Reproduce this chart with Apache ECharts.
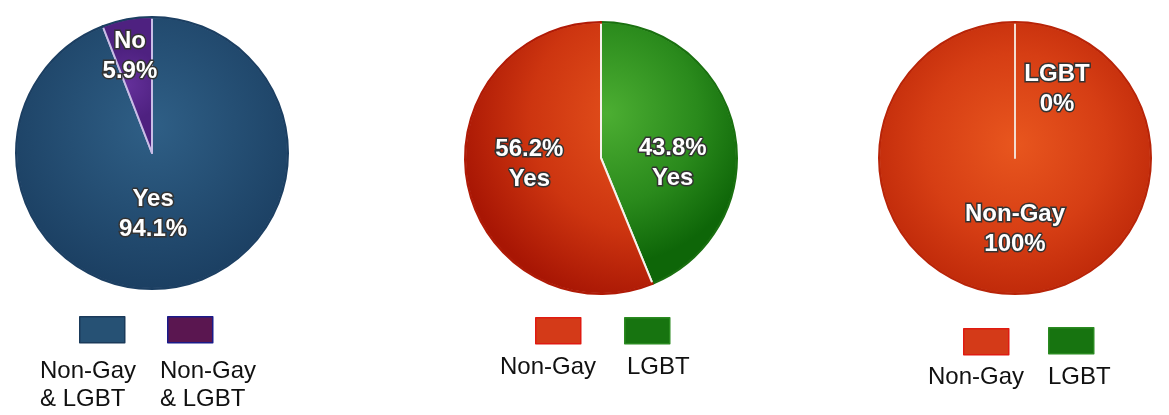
<!DOCTYPE html>
<html>
<head>
<meta charset="utf-8">
<script src="https://cdn.jsdelivr.net/npm/echarts@6/dist/echarts.min.js"></script>
<style>
html,body{margin:0;padding:0;background:#fff;}
#chart{width:1169px;height:415px;}
</style>
</head>
<body>
<div id="chart"></div>
<script>
// ---- data ----
const pie1Names = ['Yes', 'No'];
const pie1Values = [94.1, 5.9];
const pie1LegendText = ['Non-Gay\n& LGBT', 'Non-Gay\n& LGBT'];

const pie2Names = ['LGBT', 'Non-Gay'];
const pie2Values = [43.8, 56.2];
const pie2LabelWords = ['Yes', 'Yes'];

const pie3Names = ['Non-Gay', 'LGBT'];
const pie3Values = [100, 0];

const legendNames = ['Non-Gay', 'LGBT'];

// ---- layout / styles ----
const C1 = [152, 153], C2 = [601, 158], C3 = [1015, 158], R = 136;

const blueGrad = {type:'radial', x:0.5, y:0.4, r:0.6, colorStops:[{offset:0,color:'#2f5f86'},{offset:1,color:'#1b3f62'}]};
const purpleGrad = {type:'radial', x:0.5, y:0.5, r:0.7, colorStops:[{offset:0,color:'#64309a'},{offset:1,color:'#4e2180'}]};
const redGradL = {type:'radial', x:0.95, y:0.35, r:1.0, colorStops:[{offset:0,color:'#e8561e'},{offset:0.6,color:'#cd3510'},{offset:1,color:'#a81604'}]};
const greenGradR = {type:'radial', x:0.05, y:0.35, r:1.1, colorStops:[{offset:0,color:'#4cae32'},{offset:0.6,color:'#2a8a1c'},{offset:1,color:'#0e6608'}]};
const redGradFull = {type:'radial', x:0.5, y:0.45, r:0.55, colorStops:[{offset:0,color:'#e8561e'},{offset:0.6,color:'#d63e14'},{offset:1,color:'#c02a0a'}]};

function edgeBorder(c, inner, outer){
  return {type:'radial', x:c[0], y:c[1], r:R+1, global:true,
    colorStops:[{offset:0,color:inner},{offset:0.975,color:inner},{offset:0.985,color:outer},{offset:1,color:outer}]};
}

const labelBase = {
  show:true, position:'inside', color:'#fff', fontFamily:'Liberation Sans, Arial, sans-serif',
  fontWeight:'bold', fontSize:24, lineHeight:30, textBorderColor:'#333', textBorderWidth:3,
  rich:{ t:{ color:'#fff', fontFamily:'Liberation Sans, Arial, sans-serif', fontWeight:'bold', fontSize:24, lineHeight:30, textBorderColor:'#333', textBorderWidth:3 } }
};
function lbl(lines, pad){
  return Object.assign({}, labelBase, {
    formatter: () => lines.map(s => '{t|' + s + '}').join('\n'),
    padding: pad
  });
}

const pie1Colors = [blueGrad, purpleGrad];
const pie1Pads = [[0,24,16,0],[0,18,54,0]];
const pie1Data = pie1Names.map((n,i)=>({
  name:n, value:pie1Values[i],
  itemStyle:{color:pie1Colors[i]},
  label:lbl([n, pie1Values[i] + '%'], pie1Pads[i])
}));

const pie2Colors = [greenGradR, redGradL];
const pie2Edges = ['#1a7010', '#b01a06'];
const pie2Pads = [[38,0,0,4],[0,4,14,0]];
const pie2Data = pie2Names.map((n,i)=>({
  name:n, value:pie2Values[i],
  itemStyle:{color:pie2Colors[i], borderColor:edgeBorder(C2, '#f6f2ec', pie2Edges[i])},
  label:lbl([pie2Values[i] + '%', pie2LabelWords[i]], pie2Pads[i])
}));

const pie3Pads = [[0,0,0,0],[4,0,0,84]];
const pie3Data = pie3Names.map((n,i)=>({
  name:n, value:pie3Values[i],
  itemStyle:{color:redGradFull},
  label:lbl([n, pie3Values[i] + '%'], pie3Pads[i])
}));

const legendColorMap = {
  'Yes':{color:'#265174', borderColor:'#1a3a5a'},
  'No':{color:'#5a1650', borderColor:'#1a1a8a'},
  'Non-Gay':{color:'#d43a18', borderColor:'#e01a10'},
  'LGBT':{color:'#177410', borderColor:'#2a8a20'}
};
function legendIcon(name, left, top){
  return {
    show:true, left:left, top:top, padding:0, itemWidth:45, itemHeight:26,
    selectedMode:false, icon:'rect', formatter:()=>'',
    data:[{name:name, itemStyle:{color:legendColorMap[name].color, borderColor:legendColorMap[name].borderColor, borderWidth:1.5}}]
  };
}
const legendTextStyle = {fontFamily:'Liberation Sans, Arial, sans-serif', fontSize:24, fontWeight:'normal', color:'#111', lineHeight:28};

const option = {
  animation:false,
  backgroundColor:'#fff',
  legend:[
    legendIcon(pie1Names[0], 79, 316),
    legendIcon(pie1Names[1], 167, 316),
    legendIcon(legendNames[0], 535, 317),
    legendIcon(legendNames[1], 624, 317),
    legendIcon(legendNames[0], 963, 328),
    legendIcon(legendNames[1], 1048, 327)
  ],
  title:[
    {text:pie1LegendText[0], left:40, top:357, padding:0, textStyle:legendTextStyle},
    {text:pie1LegendText[1], left:160, top:357, padding:0, textStyle:legendTextStyle},
    {text:legendNames[0], left:500, top:353, padding:0, textStyle:legendTextStyle},
    {text:legendNames[1], left:627, top:353, padding:0, textStyle:legendTextStyle},
    {text:legendNames[0], left:928, top:363, padding:0, textStyle:legendTextStyle},
    {text:legendNames[1], left:1048, top:363, padding:0, textStyle:legendTextStyle}
  ],
  series:[
    {type:'pie', center:C1, radius:[0,R], startAngle:90, clockwise:true,
     avoidLabelOverlap:false, labelLine:{show:false},
     itemStyle:{borderColor:edgeBorder(C1, '#c9bde6', '#1c3f62'), borderWidth:2},
     emphasis:{disabled:true}, data:pie1Data},
    {type:'pie', center:C2, radius:[0,R], startAngle:90, clockwise:true,
     avoidLabelOverlap:false, labelLine:{show:false},
     itemStyle:{borderWidth:2},
     emphasis:{disabled:true}, data:pie2Data},
    {type:'pie', center:C3, radius:[0,R], startAngle:90, clockwise:true,
     avoidLabelOverlap:false, labelLine:{show:false}, stillShowZeroSum:true, minShowLabelAngle:0,
     itemStyle:{borderColor:edgeBorder(C3, '#f4dcd0', '#b82408'), borderWidth:2},
     emphasis:{disabled:true}, data:pie3Data}
  ]
};
const chart = echarts.init(document.getElementById('chart'), null, {renderer:'canvas'});
chart.setOption(option);
</script>
</body>
</html>
